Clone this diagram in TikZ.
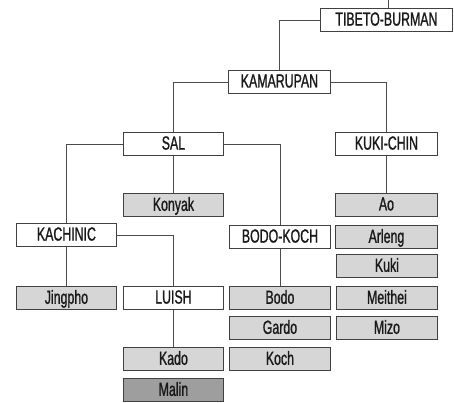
\documentclass[tikz,border=0pt]{standalone}
\usepackage{fontspec}
\setmainfont[FakeStretch=0.65,FakeBold=1]{Liberation Sans}
\begin{document}
\begin{tikzpicture}[x=1pt,y=-1pt,
  box/.style={draw=black!75,line width=0.9pt,minimum width=100pt,minimum height=23pt,inner sep=0pt,font=\fontsize{19}{19}\selectfont,anchor=north west,text=black!90,text depth=2pt},
  wbox/.style={box,fill=white},
  gbox/.style={box,fill=black!16},
  dbox/.style={box,fill=black!38},
  conn/.style={draw=black!70,line width=0.8pt}]
\useasboundingbox (0,0) rectangle (454,403);
\node[wbox,minimum width=132pt] (tb) at (320,8) {TIBETO-BURMAN};
\node[wbox,minimum width=102pt] (kam) at (228,70) {KAMARUPAN};
\node[wbox] (sal) at (123,132) {SAL};
\node[wbox,minimum width=102pt] (kc) at (335,132) {KUKI-CHIN};
\node[gbox] (konyak) at (123,193) {Konyak};
\node[gbox,minimum width=102pt] (ao) at (335,193) {Ao};
\node[wbox] (kach) at (16,223) {KACHINIC};
\node[wbox,minimum width=101pt] (bk) at (229,225) {BODO-KOCH};
\node[gbox,minimum width=102pt] (arleng) at (335,225) {Arleng};
\node[gbox,minimum width=101pt] (kuki) at (336,254) {Kuki};
\node[gbox] (jing) at (16,286) {Jingpho};
\node[wbox] (luish) at (123,286) {LUISH};
\node[gbox,minimum width=101pt] (bodo) at (229,286) {Bodo};
\node[gbox,minimum width=101pt] (meithei) at (336,286) {Meithei};
\node[gbox,minimum width=101pt] (gardo) at (229,316) {Gardo};
\node[gbox,minimum width=101pt] (mizo) at (336,316) {Mizo};
\node[gbox] (kado) at (123,347) {Kado};
\node[gbox,minimum width=101pt] (koch) at (229,347) {Koch};
\node[dbox] (malin) at (123,378) {Malin};
\coordinate (top) at (388,0);
\draw[conn] (tb.north -| top) -- (top);
\draw[conn] (tb.west) -| (kam.north);
\draw[conn] (kam.west) -| (sal.north);
\draw[conn] (kam.east) -| (kc.north);
\draw[conn] (sal.south) -- (konyak.north);
\draw[conn] (kc.south) -- (ao.north);
\draw[conn] (sal.west) -| (kach.north);
\draw[conn] (sal.east) -| (bk.north);
\draw[conn] (kach.south) -- (jing.north);
\draw[conn] (kach.east) -| (luish.north);
\draw[conn] (bk.south) -- (bodo.north);
\draw[conn] (luish.south) -- (kado.north);
\end{tikzpicture}
\end{document}
